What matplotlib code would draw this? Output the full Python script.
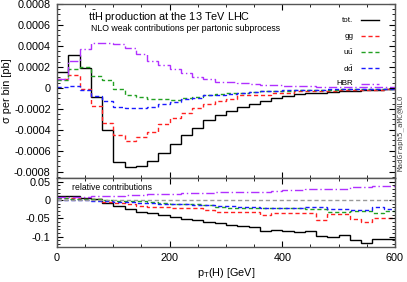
import matplotlib
matplotlib.use("Agg")
import matplotlib.pyplot as plt
from matplotlib.ticker import MultipleLocator
import numpy as np

plt.rcParams['font.family'] = ['Liberation Sans', 'DejaVu Sans']
plt.rcParams['mathtext.fontset'] = 'custom'
plt.rcParams['mathtext.rm'] = 'Liberation Sans'
plt.rcParams['mathtext.it'] = 'Liberation Sans:italic'

# ---------------------------------  data (20 GeV bins, 0-600 GeV)  ---------------------------------
edges = np.arange(0, 620, 20)

tot = [0.00015, 0.00031, 0.00019, -0.00009, -0.0004, -0.00071, -0.00076, -0.00075, -0.0007, -0.00062,
       -0.00054, -0.00045, -0.00038, -0.00031, -0.00026, -0.00022, -0.00018, -0.00015, -0.00013, -0.0001,
       -0.00008, -0.00006, -0.00005, -0.000045, -0.00004, -0.000035, -0.00003, -0.000025, -0.00002, -0.000015]
gg = [0.00008, 0.00012, -0.00001, -0.00017, -0.00034, -0.00045, -0.00051, -0.00047, -0.00042, -0.00035,
      -0.00029, -0.00024, -0.00019, -0.000155, -0.00013, -0.00011, -0.00007, -0.000067, -0.000065, -0.00005,
      -0.000045, -0.000035, -0.000033, -0.00003, -0.00003, -0.000025, -0.000022, -0.00002, -0.000018, -0.000015]
uu = [0.00007, 0.00018, 0.0002, 0.00011, 0.00007, -0.00001, -0.00007, -0.00009, -0.00011, -0.00011,
      -0.00012, -0.0001, -0.00009, -0.00007, -0.00006, -0.00005, -0.000045, -0.00004, -0.000035, -0.00003,
      -0.000028, -0.000025, -0.000022, -0.00002, -0.000018, -0.000015, -0.000013, -0.000012, -0.00001, -0.00001]
dd = [0.000007, 0.00002, -0.00002, -0.00008, -0.00013, -0.00018, -0.00019, -0.00019, -0.00018, -0.000155,
      -0.00014, -0.00011, -0.0001, -0.00007, -0.000065, -0.00006, -0.00005, -0.00004, -0.00003, -0.00003,
      -0.000025, -0.000022, -0.00002, -0.000018, -0.000016, -0.000014, -0.000012, -0.000011, -0.00001, -0.000008]
hbr = [0.00008, 0.00026, 0.00037, 0.00043, 0.00043, 0.00042, 0.00038, 0.00032, 0.00026, 0.00022,
       0.00018, 0.00014, 0.0001, 0.000083, 0.00006, 0.000055, 0.000045, 0.000035, 0.00003, 0.000025,
       0.000018, 0.000016, 0.000014, 0.000012, 0.00001, 0.000009, 0.000008, 0.000007, 0.000007, 0.000006]

# relative contributions (lower panel)
tot_rel = [0.012, 0.01, 0.005, 0.002, -0.007, -0.016, -0.025, -0.032, -0.036, -0.04,
           -0.047, -0.051, -0.054, -0.06, -0.063, -0.069, -0.072, -0.074, -0.084, -0.081,
           -0.085, -0.088, -0.085, -0.099, -0.1, -0.096, -0.11, -0.117, -0.106, -0.106]
gg_rel = [0.005, 0.005, 0.002, 0.002, -0.005, -0.009, -0.012, -0.015, -0.018, -0.02,
          -0.022, -0.022, -0.022, -0.027, -0.032, -0.032, -0.032, -0.032, -0.04, -0.036,
          -0.036, -0.036, -0.036, -0.054, -0.038, -0.038, -0.051, -0.061, -0.048, -0.048]
uu_rel = [0.005, 0.003, 0.003, 0.003, 0.0, -0.002, -0.003, -0.004, -0.006, -0.008,
          -0.01, -0.011, -0.012, -0.013, -0.018, -0.022, -0.022, -0.022, -0.022, -0.022,
          -0.022, -0.022, -0.025, -0.025, -0.033, -0.033, -0.031, -0.031, -0.035, -0.031]
dd_rel = [0.001, 0.0, -0.001, -0.002, -0.003, -0.005, -0.006, -0.007, -0.008, -0.01,
          -0.011, -0.012, -0.013, -0.014, -0.015, -0.015, -0.02, -0.02, -0.022, -0.022,
          -0.022, -0.022, -0.02, -0.02, -0.025, -0.025, -0.027, -0.027, -0.02, -0.025]
hbr_rel = [0.009, 0.008, 0.009, 0.01, 0.011, 0.012, 0.013, 0.014, 0.015, 0.016,
           0.017, 0.018, 0.019, 0.02, 0.022, 0.022, 0.022, 0.023, 0.023, 0.024,
           0.027, 0.028, 0.029, 0.03, 0.03, 0.031, 0.034, 0.034, 0.038, 0.038]

labels = ['tot.', 'gg', r'u$\mathrm{\bar{u}}$', r'd$\mathrm{\bar{d}}$', 'HBR']
colors = ['black', '#ff2020', '#22a022', '#1a1aff', '#b030ff']
styles = ['-', (0, (3, 2)), (0, (3, 2)), (0, (3, 2)), (0, (6, 2, 1, 2))]

# -------------------------------------  figure  ------------------------------------------
fig = plt.figure(figsize=(4.07, 2.82), dpi=100)
ax1 = fig.add_axes([0.140, 0.369, 0.8305, 0.617])
ax2 = fig.add_axes([0.140, 0.124, 0.8305, 0.245])

upper = [tot, gg, uu, dd, hbr]
lower = [tot_rel, gg_rel, uu_rel, dd_rel, hbr_rel]

for vals, c, ls in zip(upper, colors, styles):
    ax1.stairs(vals, edges, color=c, lw=1.0, linestyle=ls, baseline=None)
for vals, c, ls in zip(lower, colors, styles):
    ax2.stairs(vals, edges, color=c, lw=1.0, linestyle=ls, baseline=None)
ax2.plot([0, 600], [0, 0], color='#999999', lw=1.0, linestyle=(0, (3, 2)))

for ax in (ax1, ax2):
    ax.set_xlim(0, 600)
    ax.xaxis.set_major_locator(MultipleLocator(200))
    ax.xaxis.set_minor_locator(MultipleLocator(50))
    ax.tick_params(which='both', direction='in', top=True, right=True, labelsize=7.8, pad=4.5)
    ax.tick_params(which='major', length=4, width=0.8)
    ax.tick_params(which='minor', length=2, width=0.6)
    for s in ax.spines.values():
        s.set_color('#555555')
        s.set_linewidth(1.0)

ax1.set_ylim(-0.00086, 0.0008)
ax1.yaxis.set_minor_locator(MultipleLocator(0.00005))
ax1.set_yticks([0.0008, 0.0006, 0.0004, 0.0002, 0, -0.0002, -0.0004, -0.0006, -0.0008])
ax1.set_yticklabels(['0.0008', '0.0006', '0.0004', '0.0002', '0', '-0.0002', '-0.0004', '-0.0006', '-0.0008'])
ax1.tick_params(labelbottom=False)
ax1.set_ylabel('σ per bin [pb]', fontsize=7.8)
ax1.yaxis.set_label_coords(-0.132, 0.5)

ax2.set_ylim(-0.128, 0.06)
ax2.set_yticks([0.05, 0, -0.05, -0.1])
ax2.set_yticklabels(['0.05', '0', '-0.05', '-0.1'])
ax2.yaxis.set_minor_locator(MultipleLocator(0.01))
ax2.set_xticks([0, 200, 400, 600])
ax2.set_xticklabels(['0', '200', '400', '600'])
ax2.set_xlabel('p$_\\mathrm{T}$(H) [GeV]', fontsize=7.8, labelpad=2)

# texts
ax1.text(0.092, 0.925, r'$\mathrm{t\bar{t}}$H production at the 13 TeV LHC', transform=ax1.transAxes,
         fontsize=7.8, va='center', ha='left')
ax1.text(0.1, 0.857, 'NLO weak contributions per partonic subprocess', transform=ax1.transAxes,
         fontsize=6.3, va='center', ha='left')
ax2.text(0.045, 0.86, 'relative contributions', transform=ax2.transAxes,
         fontsize=6.2, va='center', ha='left')

# legend drawn gnuplot style: label right aligned, line sample on the right
leg_y = [0.905, 0.815, 0.722, 0.63, 0.54]
for lab, c, ls, y in zip(labels, colors, styles, leg_y):
    ax1.text(0.877, y, lab, transform=ax1.transAxes, fontsize=5.8, ha='right', va='center')
    ax1.plot([0.898, 0.952], [y, y], transform=ax1.transAxes, color=c, lw=1.0, linestyle=ls)

fig.text(0.983, 0.53, 'MadGraph5_aMC@NLO', rotation=90, fontsize=5.4, family='DejaVu Sans Mono',
         color='#444444', ha='center', va='center')

fig.savefig('out.png', dpi=100)
